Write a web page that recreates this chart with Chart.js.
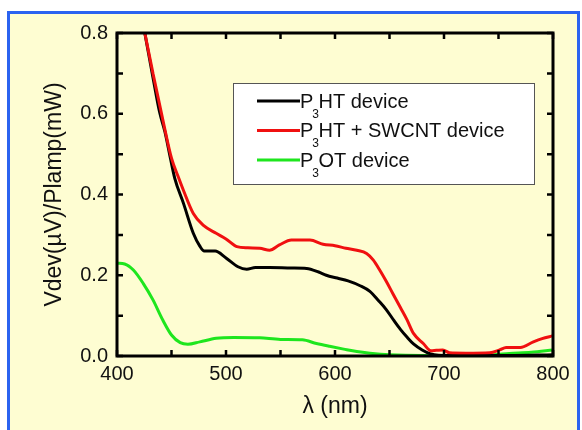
<!DOCTYPE html>
<html>
<head>
<meta charset="utf-8">
<script src="https://cdn.jsdelivr.net/npm/chart.js@4/dist/chart.umd.min.js"></script>
<style>
  html, body { margin: 0; padding: 0; background: #fff; overflow: hidden; }
  #frame {
    position: absolute; left: 7px; top: 11px;
    width: 567px; height: 440px;
    border: 3px solid #2b63f0;
    background: #fefdd2;
  }
  #chart { position: absolute; left: 0; top: 0; }
</style>
</head>
<body>
<div id="frame"></div>
<canvas id="chart" width="582" height="430"></canvas>
<script>
"use strict";

// ── Data ─────────────────────────────────────────────────────────────────────

const P3HT_NM  = [420, 425.5, 433, 439, 444, 449, 453, 461, 470, 476, 480, 490, 500, 511, 519, 527, 540, 560, 574,
                  585, 592, 602, 612, 623, 632, 640, 647, 654, 660, 666, 672, 680, 687, 695, 720, 760, 800];
const P3HT_VAL = [0.88, 0.80, 0.69, 0.605, 0.555, 0.49, 0.44, 0.378, 0.304, 0.272, 0.260, 0.260, 0.243, 0.221,
                  0.215, 0.219, 0.219, 0.218, 0.217, 0.208, 0.200, 0.193, 0.186, 0.174, 0.160, 0.137, 0.115,
                  0.088, 0.066, 0.047, 0.030, 0.015, 0.006, 0.002, 0.001, 0.001, 0.003];

const SWCNT_NM  = [420, 425.5, 433, 444, 450, 456, 461, 470, 479, 491, 500, 510, 520, 531, 540, 549, 560, 577,
                   589, 600, 610, 620, 629, 635, 641, 647, 653, 660, 666, 672, 681, 688, 693, 699, 705, 720,
                   742, 751, 757, 770, 782, 790, 800];
const SWCNT_VAL = [0.88, 0.80, 0.70, 0.56, 0.49, 0.445, 0.41, 0.353, 0.324, 0.304, 0.290, 0.271, 0.268, 0.267,
                   0.262, 0.275, 0.287, 0.287, 0.277, 0.273, 0.267, 0.262, 0.254, 0.238, 0.213, 0.185, 0.155,
                   0.120, 0.090, 0.056, 0.031, 0.013, 0.014, 0.015, 0.008, 0.007, 0.008, 0.015, 0.021, 0.021,
                   0.035, 0.043, 0.050];

const P3OT_NM  = [400, 407, 415, 424, 433, 442, 450, 458, 465, 476, 491, 507, 531, 550, 570, 583, 595, 608,
                  620, 632, 650, 680, 720, 745, 760, 780, 800];
const P3OT_VAL = [0.230, 0.228, 0.213, 0.180, 0.139, 0.089, 0.052, 0.033, 0.029, 0.035, 0.044, 0.046, 0.045,
                  0.041, 0.040, 0.031, 0.024, 0.017, 0.011, 0.007, 0.003, 0.001, 0.001, 0.003, 0.006, 0.009,
                  0.015];

const SERIES_LABELS = ["P3HT device", "P3HT + SWCNT device", "P3OT device"];
// legend text split as [base, subscript, rest]
const LEGEND_PARTS = [["P", "3", "HT device"], ["P", "3", "HT + SWCNT device"], ["P", "3", "OT device"]];
const SERIES_COLORS = ["#000000", "#f01010", "#1ee61e"];

const X_TICKS = [400, 500, 600, 700, 800];
const X_MINOR = [450, 550, 650, 750];
const Y_TICKS = [0.0, 0.2, 0.4, 0.6, 0.8];
const Y_MINOR = [0.1, 0.3, 0.5, 0.7];

const FONT = "'Liberation Sans', Arial, sans-serif";

// ── Helpers ──────────────────────────────────────────────────────────────────

function points(xs, ys) {
  return xs.map((x, i) => ({ x, y: ys[i] }));
}

// ── Plugins: inward ticks on all four sides + frame, and the boxed legend ────

const framePlugin = {
  id: "frame",
  afterDatasetsDraw(chart) {
    const { ctx, chartArea: a, scales } = chart;
    const len = 6;
    ctx.save();
    ctx.strokeStyle = "#000";
    ctx.lineWidth = 2.5;
    ctx.beginPath();
    X_TICKS.concat(X_MINOR).forEach(v => {
      const px = scales.x.getPixelForValue(v);
      ctx.moveTo(px, a.bottom); ctx.lineTo(px, a.bottom - len);
      ctx.moveTo(px, a.top);    ctx.lineTo(px, a.top + len);
    });
    Y_TICKS.concat(Y_MINOR).forEach(v => {
      const py = scales.y.getPixelForValue(v);
      ctx.moveTo(a.left, py);  ctx.lineTo(a.left + len, py);
      ctx.moveTo(a.right, py); ctx.lineTo(a.right - len, py);
    });
    ctx.stroke();
    ctx.lineWidth = 3;
    ctx.strokeRect(a.left, a.top, a.right - a.left, a.bottom - a.top);
    ctx.restore();
  },
};

const legendPlugin = {
  id: "boxLegend",
  afterDraw(chart) {
    const { ctx } = chart;
    const box = { x: 233, y: 83, w: 301, h: 101 };
    ctx.save();
    ctx.fillStyle = "#fff";
    ctx.fillRect(box.x, box.y, box.w, box.h);
    ctx.strokeStyle = "#555";
    ctx.lineWidth = 1;
    ctx.strokeRect(box.x + 0.5, box.y + 0.5, box.w, box.h);

    LEGEND_PARTS.forEach((parts, i) => {
      const cy = 101 + i * 29.5;
      ctx.strokeStyle = SERIES_COLORS[i];
      ctx.lineWidth = 3;
      ctx.beginPath();
      ctx.moveTo(257, cy);
      ctx.lineTo(300, cy);
      ctx.stroke();

      const base = cy + 6.5;
      let x = 300;
      ctx.fillStyle = "#111";
      ctx.textBaseline = "alphabetic";
      ctx.textAlign = "left";
      ctx.font = `20px ${FONT}`;
      ctx.fillText(parts[0], x, base);
      x += ctx.measureText(parts[0]).width;
      ctx.font = `12px ${FONT}`;
      ctx.fillText(parts[1], x - 1, base + 10);
      x += ctx.measureText(parts[1]).width - 1.5;
      ctx.font = `20px ${FONT}`;
      ctx.fillText(parts[2], x, base);
    });
    ctx.restore();
  },
};

// ── Chart ────────────────────────────────────────────────────────────────────

const lineStyle = { borderWidth: 3, pointRadius: 0, fill: false, cubicInterpolationMode: "monotone" };

new Chart(document.getElementById("chart"), {
  type: "line",
  data: {
    datasets: [
      { label: SERIES_LABELS[0], data: points(P3HT_NM, P3HT_VAL), borderColor: SERIES_COLORS[0], order: 2, ...lineStyle },
      { label: SERIES_LABELS[1], data: points(SWCNT_NM, SWCNT_VAL), borderColor: SERIES_COLORS[1], order: 1, ...lineStyle },
      { label: SERIES_LABELS[2], data: points(P3OT_NM, P3OT_VAL), borderColor: SERIES_COLORS[2], order: 3, ...lineStyle },
    ],
  },
  options: {
    responsive: false,
    animation: false,
    devicePixelRatio: 1,
    layout: { padding: { top: 33, right: 29, left: 0, bottom: 0 } },
    plugins: { legend: { display: false }, tooltip: { enabled: false } },
    scales: {
      x: {
        type: "linear",
        min: 400, max: 800,
        afterFit: s => { s.height = 74; },
        afterBuildTicks: s => { s.ticks = X_TICKS.map(v => ({ value: v })); },
        grid: { display: false, drawTicks: false },
        border: { display: false },
        ticks: { padding: 6, color: "#111", font: { family: FONT, size: 20 } },
        title: {
          display: true, text: "λ (nm)", color: "#111",
          font: { family: FONT, size: 23 }, padding: { top: 0, bottom: 10 },
        },
      },
      y: {
        min: 0, max: 0.8,
        afterFit: s => { s.width = 117; },
        afterBuildTicks: s => { s.ticks = Y_TICKS.map(v => ({ value: v })); },
        grid: { display: false, drawTicks: false },
        border: { display: false },
        ticks: {
          padding: 9, color: "#111", font: { family: FONT, size: 20 },
          callback: v => v.toFixed(1),
        },
        title: {
          display: true, text: "Vdev(µV)/Plamp(mW)", color: "#111",
          font: { family: FONT, size: 23 }, padding: { top: 41, bottom: 0 },
        },
      },
    },
  },
  plugins: [framePlugin, legendPlugin],
});
</script>
</body>
</html>
